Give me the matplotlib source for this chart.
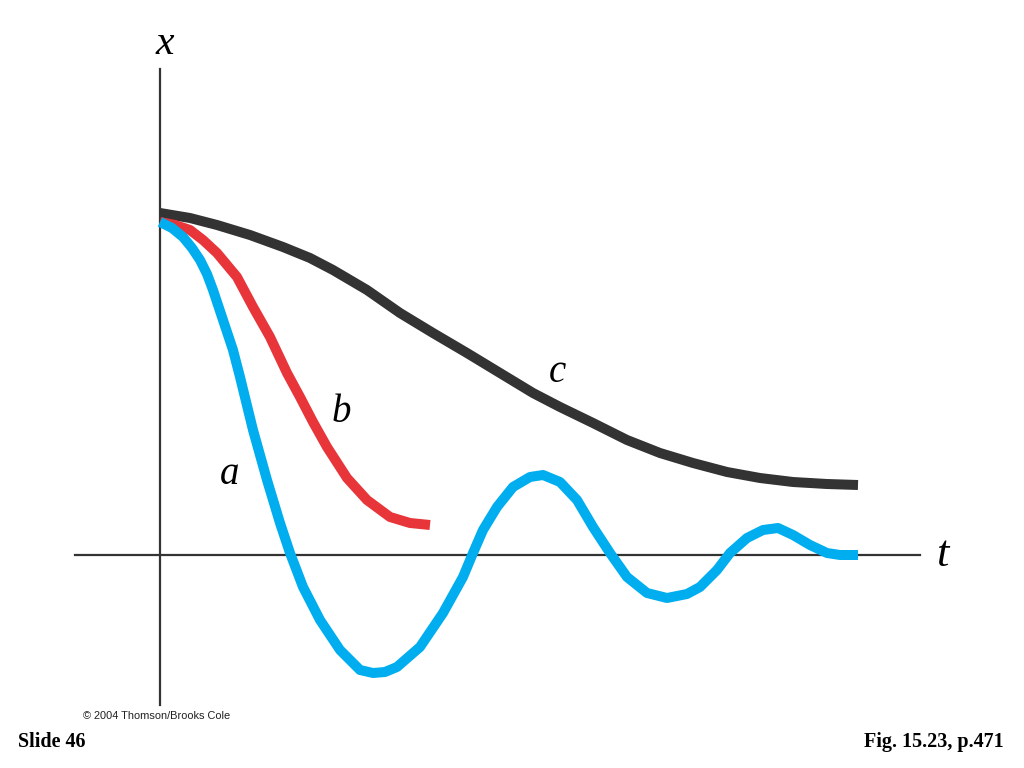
import numpy as np
import matplotlib.pyplot as plt

# Curve a (underdamped)
t_a = [0, 0.12, 0.23, 0.32, 0.40, 0.47, 0.53, 0.63, 0.73, 0.80, 0.93, 1.07, 1.20,
       1.30, 1.43, 1.60, 1.80, 2.00, 2.13, 2.25, 2.37, 2.60, 2.83, 3.03, 3.13, 3.23,
       3.37, 3.53, 3.70, 3.83, 4.00, 4.17, 4.33, 4.50, 4.67, 4.87, 5.07, 5.27, 5.40,
       5.57, 5.70, 5.87, 6.03, 6.18, 6.33, 6.50, 6.67, 6.80, 6.98]
x_a = [3.33, 3.27, 3.18, 3.07, 2.95, 2.81, 2.65, 2.35, 2.05, 1.78, 1.25, 0.75, 0.32,
       0.02, -0.32, -0.65, -0.95, -1.15, -1.18, -1.17, -1.12, -0.92, -0.58, -0.22,
       0.02, 0.25, 0.48, 0.68, 0.78, 0.80, 0.73, 0.55, 0.28, 0.02, -0.22, -0.38,
       -0.43, -0.39, -0.32, -0.15, 0.02, 0.17, 0.25, 0.27, 0.20, 0.10, 0.02, 0.0, 0.0]

# Curve b (critically damped)
t_b = [0, 0.15, 0.30, 0.43, 0.57, 0.77, 0.93, 1.10, 1.27, 1.40, 1.53, 1.67, 1.87,
       2.07, 2.30, 2.50, 2.70]
x_b = [3.33, 3.30, 3.25, 3.15, 3.02, 2.78, 2.48, 2.18, 1.82, 1.58, 1.33, 1.08, 0.77,
       0.55, 0.38, 0.32, 0.30]

# Curve c (overdamped)
t_c = [0, 0.30, 0.57, 0.90, 1.23, 1.50, 1.73, 2.07, 2.40, 2.73, 3.07, 3.40, 3.73,
       4.00, 4.33, 4.67, 5.00, 5.33, 5.67, 6.00, 6.33, 6.67, 6.98]
x_c = [3.42, 3.37, 3.30, 3.20, 3.08, 2.97, 2.85, 2.65, 2.42, 2.22, 2.02, 1.82, 1.62,
       1.48, 1.32, 1.15, 1.02, 0.92, 0.83, 0.77, 0.73, 0.71, 0.70]

blue = "#00aeef"
red = "#e8353a"
dark = "#333333"

fig = plt.figure(figsize=(10.24, 7.68), dpi=100)
ax = fig.add_axes([0, 0, 1, 1])
ax.set_xlim(-1.6, 8.64)
ax.set_ylim(-2.13, 5.55)
ax.axis("off")

# Axes lines
ax.plot([0, 0], [-1.5, 4.86], color=dark, lw=1.6)
ax.plot([-0.85, 7.6], [0, 0], color=dark, lw=1.6)

lw = 7.2
style = dict(lw=lw, solid_capstyle="butt", solid_joinstyle="round")
ax.plot(t_c, x_c, color=dark, **style)
ax.plot(t_b, x_b, color=red, **style)
ax.plot(t_a, x_a, color=blue, **style)

serif = "Liberation Serif"
ax.text(0.05, 4.92, "x", fontsize=30, style="italic", family=serif, ha="center", va="bottom")
ax.text(7.82, 0, "t", fontsize=32, style="italic", family=serif, ha="center", va="center")
ax.text(0.7, 0.8, "a", fontsize=28, style="italic", family=serif, ha="center", va="center")
ax.text(1.81, 1.43, "b", fontsize=28, style="italic", family=serif, ha="center", va="center")
ax.text(3.97, 1.83, "c", fontsize=28, style="italic", family=serif, ha="center", va="center")

fig.text(83 / 1024, 1 - 716 / 768, "\u00a9 2004 Thomson/Brooks Cole", fontsize=7.9,
         family="Liberation Sans", color="#222222", va="center")
fig.text(18 / 1024, 1 - 742 / 768, "Slide 46", fontsize=14.5, weight="bold",
         family=serif, va="center")
fig.text(1004 / 1024, 1 - 742 / 768, "Fig. 15.23, p.471", fontsize=14.5, weight="bold",
         family=serif, va="center", ha="right")

fig.savefig("out.png", dpi=100)
